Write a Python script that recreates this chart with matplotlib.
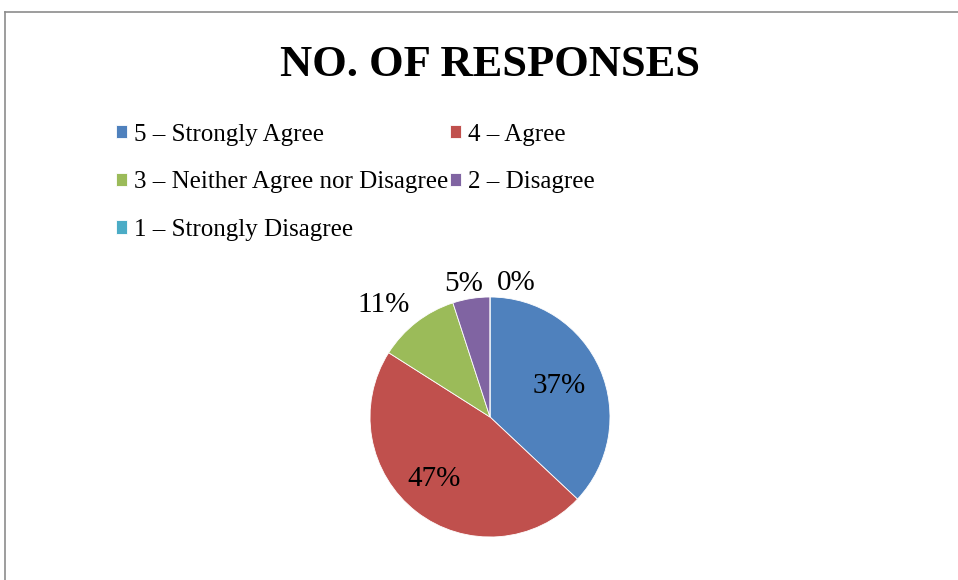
import matplotlib.pyplot as plt
from matplotlib.lines import Line2D
import numpy as np

# survey answers
labels = ['5 – Strongly Agree', '4 – Agree', '3 – Neither Agree nor Disagree',
          '2 – Disagree', '1 – Strongly Disagree']
shares = [37, 47, 11, 5, 0]
colors = ['#4F81BD', '#C0504D', '#9BBB59', '#8064A2', '#4BACC6']

plt.rcParams['font.family'] = ['Liberation Serif', 'DejaVu Serif']

fig = plt.figure(figsize=(9.58, 5.8), dpi=100)

# outer chart frame (only top and left edges visible)
fig.add_artist(Line2D([5/958, 5/958], [0, 1 - 12/580], transform=fig.transFigure, color='#8c8c8c', lw=1.2))
fig.add_artist(Line2D([5/958, 1], [1 - 12/580, 1 - 12/580], transform=fig.transFigure, color='#8c8c8c', lw=1.2))

fig.text(490/958, 1 - 65/580, 'NO. OF RESPONSES', ha='center', va='center',
         fontsize=32, fontweight='bold')

ax = fig.add_axes([(490 - 150)/958, 1 - (417 + 150)/580, 300/958, 300/580])
wedges, texts, autotexts = ax.pie(shares, colors=colors, startangle=90, counterclock=False,
                                  autopct='%1.0f%%', pctdistance=0.65,
                                  wedgeprops=dict(edgecolor='white', linewidth=0.6),
                                  textprops=dict(fontsize=21))
ax.set_xlim(-1.25, 1.25)
ax.set_ylim(-1.25, 1.25)

# label placement like Excel "best fit": (distance from centre, x nudge, y nudge)
placement = [(0.65, -0.02, 0.0), (0.68, -0.05, 0.02), (1.3, -0.09, -0.09), (1.15, -0.04, -0.03), (1.15, 0.0, 0.0)]
for w, t, (d, dx, dy) in zip(wedges, autotexts, placement):
    ang = np.deg2rad((w.theta1 + w.theta2) / 2)
    t.set_position((d * np.cos(ang) + dx, d * np.sin(ang) + dy))
autotexts[4].set_ha('left')
autotexts[4].set_position((0.06, 1.12))

order = [0, 2, 4, 1, 3]
fig.legend([wedges[i] for i in order], [labels[i] for i in order], ncol=2,
           loc='upper left', bbox_to_anchor=(103/958, 1 - 111/580), frameon=False,
           fontsize=18, handlelength=0.45, handleheight=0.45, handletextpad=0.3,
           columnspacing=0.05, labelspacing=1.03, borderpad=0)

fig.savefig('out.png', dpi=100)
